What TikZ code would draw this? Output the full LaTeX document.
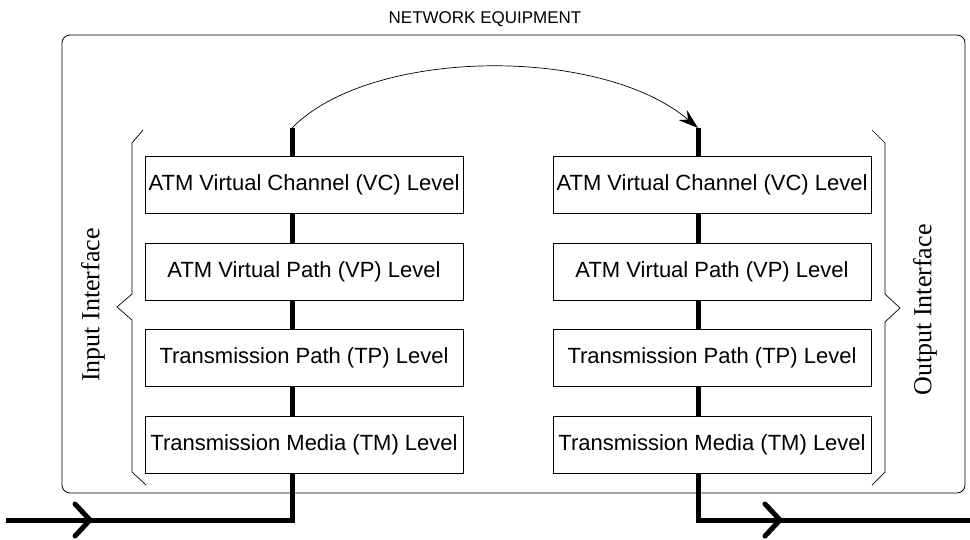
\documentclass[tikz,border=0pt]{standalone}
\usepackage{fontspec}
\setmainfont{Liberation Serif}
\setsansfont{Liberation Sans}
\usetikzlibrary{arrows.meta}
\tikzset{
  level/.style={draw,fill=white,line width=0.8pt,minimum width=318pt,minimum height=57pt,
    inner sep=0pt,font=\sffamily\fontsize{22}{25}\selectfont},
  wire/.style={line width=5pt},
  chevron/.style={line width=5pt,line cap=round,line join=round},
  brace/.style={line width=0.7pt},
}
\begin{document}
\begin{tikzpicture}[x=1pt,y=-1pt]
  \useasboundingbox (0,0) rectangle (970,539);
  \node[font=\sffamily\fontsize{17}{20}\selectfont] (title) at (485,19) {NETWORK EQUIPMENT};
  \draw[line width=0.8pt,rounded corners=8pt] (62,35) rectangle (965,493);
  % input side
  \node[level] (lvc) at (304,184.5) {ATM Virtual Channel (VC) Level};
  \node[level] (lvp) at (304,271.5) {ATM Virtual Path (VP) Level};
  \node[level] (ltp) at (304,358) {Transmission Path (TP) Level};
  \node[level] (ltm) at (304,444.5) {Transmission Media (TM) Level};
  % output side
  \node[level] (rvc) at (712,184.5) {ATM Virtual Channel (VC) Level};
  \node[level] (rvp) at (712,271.5) {ATM Virtual Path (VP) Level};
  \node[level] (rtp) at (712,358) {Transmission Path (TP) Level};
  \node[level] (rtm) at (712,444.5) {Transmission Media (TM) Level};
  \path (292,128) coordinate (ltop) (292,520) coordinate (lbot) (6,520) coordinate (lin);
  \path (698,128) coordinate (rtop) (698,520) coordinate (rbot) (970,520) coordinate (rout);
  \path (90,520) coordinate (lchev) (780,520) coordinate (rchev);
  % stacks
  \foreach \s in {l,r} {
    \draw[wire] (\s top) -- (\s top |- \s vc.north);
    \draw[wire] (\s top |- \s vc.south) -- (\s top |- \s vp.north);
    \draw[wire] (\s top |- \s vp.south) -- (\s top |- \s tp.north);
    \draw[wire] (\s top |- \s tp.south) -- (\s top |- \s tm.north);
  }
  \draw[wire,line join=miter] (lin) -- (lbot) -- (ltop |- ltm.south);
  \draw[wire,line join=miter] (rtop |- rtm.south) -- (rbot) -- (rout);
  \draw[chevron] ([shift={(-15,-16)}]lchev) -- (lchev) -- ([shift={(-15,16)}]lchev);
  \draw[chevron] ([shift={(-15,-16)}]rchev) -- (rchev) -- ([shift={(-15,16)}]rchev);
  % switching
  \draw[line width=0.7pt,-{Stealth[length=20pt,width=13pt,inset=7pt]}]
    (ltop) .. controls (370,48) and (600,45) .. (rtop);
  % interfaces
  \draw[brace] (143,130) -- (132,143) -- (132,294) -- (117,307) -- (132,320) -- (132,472) -- (146,485);
  \draw[brace] (872,130) -- (885,143) -- (885,294) -- (900,308) -- (885,322) -- (885,472) -- (872,485);
  \node[rotate=90,font=\fontsize{26}{30}\selectfont] (inlab) at (93,305) {Input Interface};
  \node[rotate=90,font=\fontsize{26}{30}\selectfont] (outlab) at (925,310) {Output Interface};
\end{tikzpicture}
\end{document}
